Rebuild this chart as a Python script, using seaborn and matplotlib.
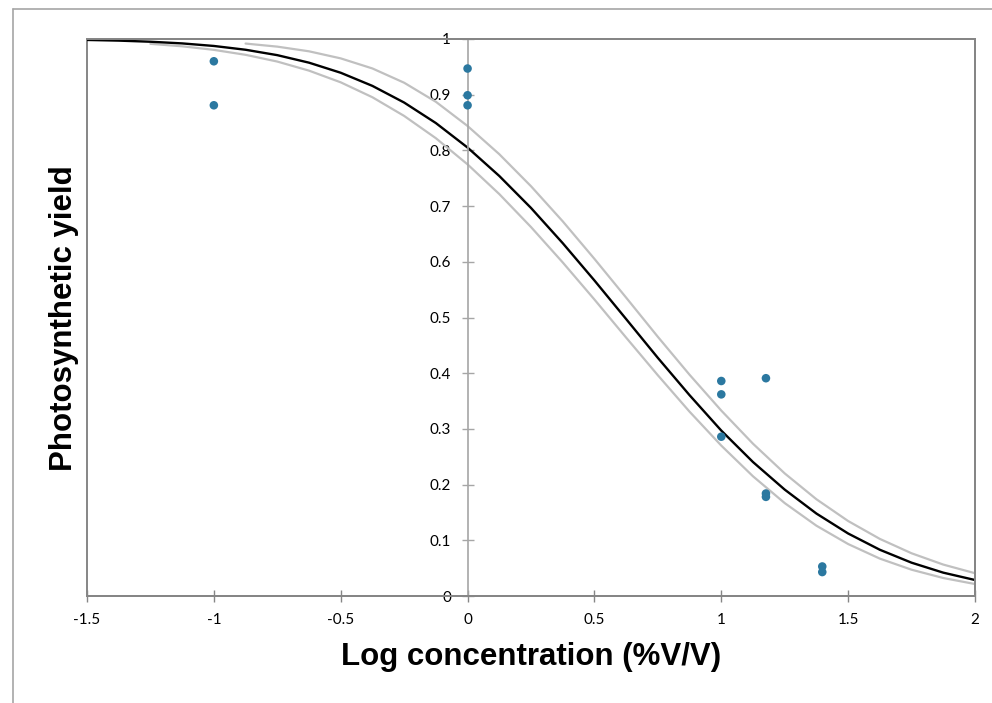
import numpy as np
import pandas as pd
import matplotlib
matplotlib.use("Agg")
import matplotlib.pyplot as plt
from matplotlib.lines import Line2D
from matplotlib.patches import Rectangle
import seaborn as sns

# ------------------------------------------------------------------
# measured points (log concentration vs photosynthetic yield)
# ------------------------------------------------------------------
log_conc = [-1, -1, 0, 0, 0, 1, 1, 1, 1.176, 1.176, 1.176, 1.398, 1.398]
yield_obs = [0.960, 0.881, 0.947, 0.899, 0.881, 0.386, 0.362, 0.286,
             0.391, 0.184, 0.178, 0.053, 0.043]

# fitted curve
fit_x = [-1.5, -1.375, -1.25, -1.125, -1.0, -0.875, -0.75, -0.625, -0.5,
         -0.375, -0.25, -0.125, 0.0, 0.125, 0.25, 0.375, 0.5, 0.625, 0.75,
         0.875, 1.0, 1.125, 1.25, 1.375, 1.5, 1.625, 1.75, 1.875, 2.0]
fit_y = [0.9983, 0.9971, 0.9951, 0.9921, 0.9875, 0.9807, 0.9710, 0.9575,
         0.9394, 0.9158, 0.8859, 0.8491, 0.8051, 0.7541, 0.6967, 0.6335,
         0.5665, 0.4972, 0.4275, 0.3605, 0.2970, 0.2405, 0.1910, 0.1480,
         0.1122, 0.0830, 0.0598, 0.0419, 0.0287]

# confidence band, upper
upper_x = [-0.875, -0.75, -0.625, -0.5, -0.375, -0.25, -0.125, 0.0, 0.125,
           0.25, 0.375, 0.5, 0.625, 0.75, 0.875, 1.0, 1.125, 1.25, 1.375,
           1.5, 1.625, 1.75, 1.875, 2.0]
upper_y = [0.9918, 0.9863, 0.9779, 0.9652, 0.9471, 0.9215, 0.8873, 0.8438,
           0.7932, 0.7357, 0.6727, 0.6053, 0.5357, 0.4653, 0.3972, 0.3329,
           0.2734, 0.2201, 0.1737, 0.1346, 0.1025, 0.0767, 0.0564, 0.0409]

# confidence band, lower
lower_x = [-1.25, -1.125, -1.0, -0.875, -0.75, -0.625, -0.5, -0.375, -0.25,
           -0.125, 0.0, 0.125, 0.25, 0.375, 0.5, 0.625, 0.75, 0.875, 1.0,
           1.125, 1.25, 1.375, 1.5, 1.625, 1.75, 1.875, 2.0]
lower_y = [0.9913, 0.9869, 0.9805, 0.9716, 0.9595, 0.9432, 0.9222, 0.8954,
           0.8619, 0.8219, 0.7749, 0.7216, 0.6624, 0.5989, 0.5323, 0.4639,
           0.3963, 0.3309, 0.2700, 0.2149, 0.1668, 0.1262, 0.0933, 0.0671,
           0.0472, 0.0323, 0.0215]

x_ticks = [-1.5, -1, -0.5, 0, 0.5, 1, 1.5, 2]
x_tick_labels = ["-1.5", "-1", "-0.5", "0", "0.5", "1", "1.5", "2"]
y_ticks = [0, 0.1, 0.2, 0.3, 0.4, 0.5, 0.6, 0.7, 0.8, 0.9, 1]
y_tick_labels = ["0", "0.1", "0.2", "0.3", "0.4", "0.5", "0.6", "0.7", "0.8", "0.9", "1"]

df_pts = pd.DataFrame({"x": log_conc, "y": yield_obs})
df_fit = pd.DataFrame({"x": fit_x, "y": fit_y})
df_up = pd.DataFrame({"x": upper_x, "y": upper_y})
df_lo = pd.DataFrame({"x": lower_x, "y": lower_y})

sns.set_style("white")
plt.rcParams["font.family"] = ["Lato", "DejaVu Sans"]
plt.rcParams["text.color"] = "black"
plt.rcParams["xtick.color"] = "black"
plt.rcParams["ytick.color"] = "black"

W, H = 992, 703
fig = plt.figure(figsize=(W / 100, H / 100), dpi=100)
ax = fig.add_axes([87 / W, (H - 596) / H, (975 - 87) / W, (596 - 39) / H])

border = "#868686"

#================================================================
# curves + points
#================================================================
sns.lineplot(data=df_up, x="x", y="y", ax=ax, color="#c0c0c0", lw=1.6, sort=False)
sns.lineplot(data=df_lo, x="x", y="y", ax=ax, color="#c0c0c0", lw=1.6, sort=False)
sns.lineplot(data=df_fit, x="x", y="y", ax=ax, color="black", lw=1.7, sort=False)
sns.scatterplot(data=df_pts, x="x", y="y", ax=ax, color="#2b78a0", s=38,
                edgecolor="none", zorder=5)

ax.set_xlim(-1.5, 2)
ax.set_ylim(0, 1)
ax.set_xticks(x_ticks)
ax.set_xticklabels(x_tick_labels)
ax.set_yticks(y_ticks)
ax.set_yticklabels(y_tick_labels)

# Excel style: vertical axis crossing at x = 0
ax.spines["left"].set_position(("data", 0))
ax.spines["left"].set_color("#a6a6a6")
ax.spines["left"].set_linewidth(1.2)
for side in ["top", "right", "bottom"]:
    ax.spines[side].set_color(border)
    ax.spines[side].set_linewidth(1.4)
ax.add_patch(Rectangle((0, 0), 1, 1, transform=ax.transAxes, fill=False,
                       edgecolor=border, lw=1.4, zorder=0, clip_on=False))

ax.tick_params(axis="x", direction="inout", length=8, width=1, color=border,
               labelsize=11, pad=8, bottom=True, labelcolor="black")
ax.tick_params(axis="y", direction="inout", length=8, width=1, color="#a6a6a6",
               labelsize=11, pad=8, left=True, labelcolor="black")

ax.set_xlabel("Log concentration (%V/V)", fontsize=22.5, fontweight="bold",
              family="Liberation Sans", labelpad=11, color="black")
ax.set_ylabel("")
fig.text(64 / W, 1 - 318 / H, "Photosynthetic yield", rotation=90,
         fontsize=22.5, fontweight="bold", family="Liberation Sans",
         ha="center", va="center", color="black")

# outer chart frame
fig.add_artist(Line2D([13 / W, 13 / W], [0, 1 - 9 / H], transform=fig.transFigure,
                      color="#a6a6a6", lw=1.2))
fig.add_artist(Line2D([13 / W, 1], [1 - 9 / H, 1 - 9 / H], transform=fig.transFigure,
                      color="#a6a6a6", lw=1.2))

fig.savefig("out.png", dpi=100)
